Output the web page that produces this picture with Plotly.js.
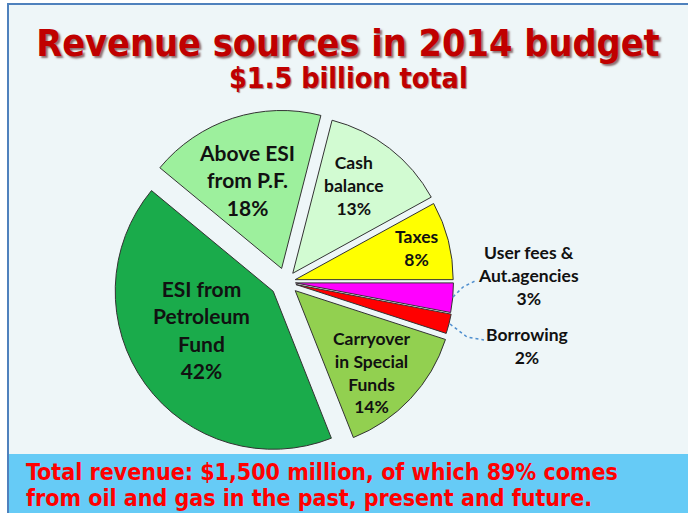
<!DOCTYPE html>
<html>
<head>
<meta charset="utf-8">
<script src="https://cdn.plot.ly/plotly-3.0.1.min.js"></script>
<style>html,body{margin:0;padding:0;background:#fff;}#chart{width:688px;height:513px;}</style>
</head>
<body>
<div id="chart"></div>
<script>
// ---- data (clockwise from 3 o'clock) ----
const labels = ["User fees &<br>Aut.agencies", "Borrowing", "Carryover<br>in Special<br>Funds", "ESI from<br>Petroleum<br>Fund", "Above ESI<br>from P.F.", "Cash<br>balance", "Taxes"];
const percents = [3, 2, 14, 42, 18, 13, 8];
const sliceColors = ["#ff00ff", "#ff0000", "#92d050", "#1aab4b", "#9df09d", "#d2fbd2", "#ffff00"];
const pulls = [0.06, 0.065, 0.08, 0.1, 0.09, 0.07, 0.06];
const titleText = "Revenue sources in 2014 budget";
const subtitleText = "$1.5 billion total";
const footerLines = ["Total revenue: $1,500 million, of which 89% comes", "from oil and gas in the past, present and future."];

// ---- helpers (pixel -> paper) ----
const W = 688, H = 513;
const px = x => x / W;
const py = y => 1 - y / H;

// label placement (pixel centres) and sizes
const labelPos = [[528, 275], [527, 346], [372, 372], [201, 329], [247, 180], [354, 185], [417, 248]];
const labelSize = [17.5, 17.5, 17.5, 21, 21, 17.5, 17.5];

const labelFont = "Lato, 'Open Sans', sans-serif";
const titleFont = "'DejaVu Sans Condensed', 'DejaVu Sans', Verdana, sans-serif";

const annotations = labels.map((l, i) => ({
  text: l + "<br>" + percents[i] + "%",
  x: px(labelPos[i][0]), y: py(labelPos[i][1]),
  xref: "paper", yref: "paper", xanchor: "center", yanchor: "middle",
  showarrow: false, align: "center",
  font: {family: labelFont, size: labelSize[i], color: "#111", weight: 700}
}));

annotations.push({
  text: subtitleText, x: px(348), y: py(78), xref: "paper", yref: "paper",
  xanchor: "center", yanchor: "middle", showarrow: false,
  font: {family: titleFont, size: 28.5, color: "#c00000", weight: 700, shadow: "1px 1px 1px rgba(80,0,0,0.5)"}
});
footerLines.forEach((t, i) => annotations.push({
  text: t, x: px(24), y: py(472 + i * 26), xref: "paper", yref: "paper",
  xanchor: "left", yanchor: "middle", showarrow: false,
  font: {family: titleFont, size: 23, color: "#ff0000", weight: 700}
}));

const shapes = [
  {type: "rect", xref: "paper", yref: "paper", x0: px(8), x1: 1.05, y0: -0.05, y1: py(4),
   fillcolor: "#eef6f8", line: {color: "#4f81bd", width: 2}, layer: "below"},
  {type: "rect", xref: "paper", yref: "paper", x0: px(9), x1: 1.05, y0: -0.05, y1: py(454),
   fillcolor: "#66cbf6", line: {width: 0}, layer: "below"},
  {type: "path", xref: "paper", yref: "paper",
   path: `M ${px(453)},${py(297)} L ${px(463)},${py(287)} L ${px(477)},${py(280)}`,
   line: {color: "#4f8fcf", width: 1.5, dash: "dot"}},
  {type: "path", xref: "paper", yref: "paper",
   path: `M ${px(450)},${py(324)} L ${px(467)},${py(337)} L ${px(484)},${py(340)}`,
   line: {color: "#4f8fcf", width: 1.5, dash: "dot"}}
];

// pie domain: centre (286,282) px, radius ~158 px
const cx = 286, cy = 282, r = 158, maxPull = Math.max(...pulls);
const half = r * (1 + maxPull);

const trace = {
  type: "pie",
  labels: labels, values: percents, sort: false,
  direction: "clockwise", rotation: 90,
  pull: pulls,
  marker: {colors: sliceColors, line: {color: "#333", width: 1}},
  textinfo: "none", hoverinfo: "none", showlegend: false,
  domain: {x: [px(cx - half), px(cx + half)], y: [py(cy + half), py(cy - half)]}
};

const layout = {
  width: W, height: H,
  margin: {l: 0, r: 0, t: 0, b: 0},
  paper_bgcolor: "#ffffff",
  showlegend: false,
  title: {text: titleText, x: px(348), xanchor: "center", y: py(43), yanchor: "middle", yref: "container",
    font: {family: titleFont, size: 37.5, color: "#c00000", weight: 700, shadow: "2px 2px 2px rgba(60,0,0,0.55)"}},
  annotations: annotations,
  shapes: shapes
};

Plotly.newPlot("chart", [trace], layout, {displayModeBar: false, staticPlot: true});
</script>
</body>
</html>
